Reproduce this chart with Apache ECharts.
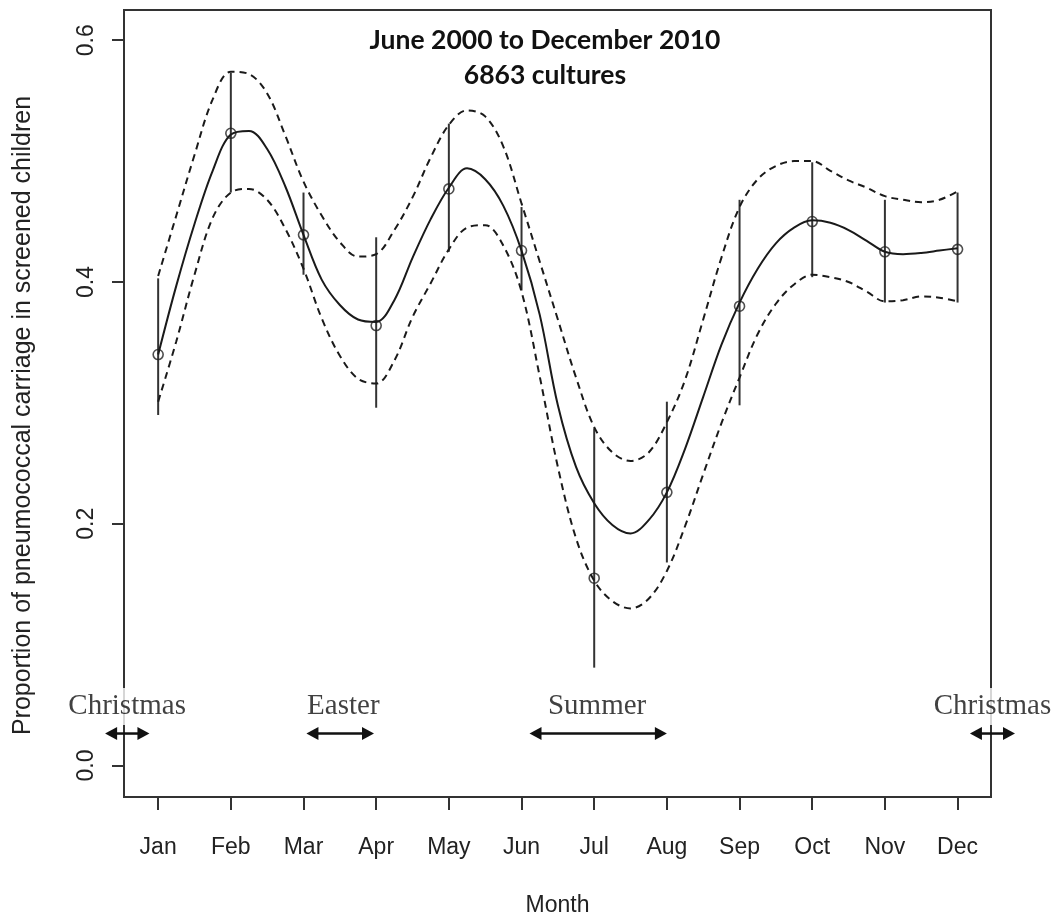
<!DOCTYPE html>
<html>
<head>
<meta charset="utf-8">
<script src="https://cdn.jsdelivr.net/npm/echarts@6/dist/echarts.min.js"></script>
<style>
  html, body { margin: 0; padding: 0; background: #fff; }
  #chart { width: 1056px; height: 916px; }
</style>
</head>
<body>
<div id="chart"></div>
<script>
// month labels on the x axis
const months = ['Jan', 'Feb', 'Mar', 'Apr', 'May', 'Jun', 'Jul', 'Aug', 'Sep', 'Oct', 'Nov', 'Dec']
const yTicks = [0, 0.2, 0.4, 0.6]

// observed monthly proportions and their confidence bars
const observed = [0.340, 0.523, 0.439, 0.364, 0.477, 0.426, 0.155, 0.226, 0.380, 0.450, 0.425, 0.427]
const barLow = [0.290, 0.474, 0.406, 0.296, 0.425, 0.393, 0.081, 0.168, 0.298, 0.404, 0.383, 0.383]
const barHigh = [0.403, 0.573, 0.474, 0.437, 0.531, 0.462, 0.279, 0.301, 0.468, 0.499, 0.468, 0.474]

// smoothed fit and its band, every quarter month (Jan .. Dec)
const fitted = [
  0.340, 0.397, 0.448, 0.492, 0.522, 0.525, 0.510, 0.479, 0.439, 0.402, 0.381, 0.369,
  0.367, 0.385, 0.420, 0.452, 0.478, 0.494, 0.485, 0.463, 0.426, 0.373, 0.298, 0.247,
  0.217, 0.199, 0.192, 0.203, 0.226, 0.262, 0.305, 0.348, 0.383, 0.411, 0.432, 0.445,
  0.451, 0.449, 0.443, 0.434, 0.425, 0.423, 0.424, 0.426, 0.428
]
const upperBand = [
  0.405, 0.455, 0.505, 0.551, 0.574, 0.572, 0.556, 0.521, 0.483, 0.455, 0.433, 0.421,
  0.423, 0.443, 0.470, 0.503, 0.530, 0.542, 0.537, 0.512, 0.465, 0.417, 0.369, 0.321,
  0.280, 0.259, 0.252, 0.259, 0.284, 0.319, 0.369, 0.420, 0.462, 0.485, 0.496, 0.500,
  0.500, 0.492, 0.484, 0.478, 0.471, 0.468, 0.466, 0.468, 0.475
]
const lowerBand = [
  0.301, 0.351, 0.406, 0.453, 0.474, 0.477, 0.468, 0.444, 0.411, 0.370, 0.339, 0.320,
  0.316, 0.335, 0.371, 0.399, 0.427, 0.445, 0.447, 0.430, 0.392, 0.322, 0.247, 0.188,
  0.153, 0.136, 0.130, 0.138, 0.161, 0.198, 0.241, 0.283, 0.321, 0.357, 0.382, 0.398,
  0.406, 0.404, 0.400, 0.392, 0.384, 0.385, 0.388, 0.387, 0.384
]
const bandMonths = fitted.map((v, i) => 1 + i * 0.25)

// holiday annotations: label position and arrow span (in months)
const holidayNames = ['Christmas', 'Easter', 'Summer', 'Christmas']
const holidayLabelX = [0.573, 3.548, 7.04, 12.48]
const holidayLabelY = 0.0488
const holidayFrom = [0.27, 3.04, 6.11, 12.17]
const holidayTo = [0.88, 3.97, 8.0, 12.79]
const holidayArrowY = 0.0265

const chart = echarts.init(document.getElementById('chart'))

const ink = '#1a1a1a'
const axisFont = { fontFamily: 'Liberation Sans', fontSize: 23, color: '#222' }
const pairs = (xs, ys) => xs.map((x, i) => [x, ys[i]])

// double-headed arrow drawn between two data points
function renderArrow(params, api) {
  const p1 = api.coord([api.value(0), api.value(2)])
  const p2 = api.coord([api.value(1), api.value(2)])
  const head = 12
  const half = 6.5
  const y = p1[1]
  return {
    type: 'group',
    children: [
      {
        type: 'line',
        shape: { x1: p1[0] + head - 2, y1: y, x2: p2[0] - head + 2, y2: y },
        style: { stroke: '#111', lineWidth: 2.5 }
      },
      {
        type: 'polygon',
        shape: { points: [[p1[0], y], [p1[0] + head, y - half], [p1[0] + head, y + half]] },
        style: { fill: '#111' }
      },
      {
        type: 'polygon',
        shape: { points: [[p2[0], y], [p2[0] - head, y - half], [p2[0] - head, y + half]] },
        style: { fill: '#111' }
      }
    ]
  }
}

const option = {
  backgroundColor: '#fff',
  animation: false,
  graphic: [{
    type: 'text',
    x: 545,
    y: 23,
    style: {
      text: 'June 2000 to December 2010\n6863 cultures',
      textAlign: 'center',
      textVerticalAlign: 'top',
      font: 'bold 26.5px Lato',
      lineHeight: 35,
      fill: '#111'
    }
  }],
  grid: {
    left: 124,
    right: 65,
    top: 10,
    bottom: 119,
    outerBoundsMode: 'none',
    show: true,
    borderColor: '#333',
    borderWidth: 2
  },
  xAxis: {
    type: 'value',
    min: 0.53,
    max: 12.46,
    name: 'Month',
    nameLocation: 'middle',
    nameGap: 97,
    nameTextStyle: axisFont,
    axisLine: { show: false, onZero: false },
    splitLine: { show: false },
    axisTick: {
      show: true,
      length: 13,
      customValues: months.map((m, i) => i + 1),
      lineStyle: { color: '#333', width: 2 }
    },
    axisLabel: {
      ...axisFont,
      margin: 39,
      customValues: months.map((m, i) => i + 1),
      formatter: v => months[Math.round(v) - 1]
    }
  },
  yAxis: {
    type: 'value',
    min: -0.026,
    max: 0.625,
    name: 'Proportion of pneumococcal carriage in screened children',
    nameLocation: 'middle',
    nameGap: 88,
    nameTextStyle: { ...axisFont, fontSize: 25, padding: [0, 24, 0, 0] },
    axisLine: { show: false, onZero: false },
    splitLine: { show: false },
    axisTick: {
      show: true,
      length: 12,
      customValues: yTicks,
      lineStyle: { color: '#333', width: 2 }
    },
    axisLabel: {
      ...axisFont,
      rotate: 90,
      margin: 26,
      customValues: yTicks,
      formatter: v => v.toFixed(1)
    }
  },
  series: [
    {
      name: 'upper',
      type: 'line',
      data: pairs(bandMonths, upperBand),
      smooth: 0.35,
      showSymbol: false,
      lineStyle: { color: ink, width: 2, type: [7, 5] }
    },
    {
      name: 'lower',
      type: 'line',
      data: pairs(bandMonths, lowerBand),
      smooth: 0.35,
      showSymbol: false,
      lineStyle: { color: ink, width: 2, type: [7, 5] }
    },
    {
      name: 'fit',
      type: 'line',
      data: pairs(bandMonths, fitted),
      smooth: 0.35,
      showSymbol: false,
      lineStyle: { color: ink, width: 2 }
    },
    {
      name: 'bars',
      type: 'custom',
      data: observed.map((v, i) => [i + 1, barLow[i], barHigh[i]]),
      encode: { x: 0, y: [1, 2] },
      renderItem: (params, api) => {
        const p1 = api.coord([api.value(0), api.value(1)])
        const p2 = api.coord([api.value(0), api.value(2)])
        return {
          type: 'line',
          shape: { x1: p1[0], y1: p1[1], x2: p2[0], y2: p2[1] },
          style: { stroke: '#333', lineWidth: 2 }
        }
      }
    },
    {
      name: 'observed',
      type: 'scatter',
      data: observed.map((v, i) => [i + 1, v]),
      symbol: 'circle',
      symbolSize: 10,
      itemStyle: { color: 'rgba(0,0,0,0)', borderColor: '#222', borderWidth: 1.6 }
    },
    {
      name: 'holidays',
      type: 'scatter',
      clip: false,
      symbolSize: 0,
      z: 5,
      data: holidayNames.map((n, i) => ({ name: n, value: [holidayLabelX[i], holidayLabelY] })),
      label: {
        show: true,
        position: 'inside',
        formatter: p => p.name,
        fontFamily: 'Liberation Serif',
        fontSize: 29,
        color: '#111',
        backgroundColor: '#fff',
        padding: [4, 2]
      }
    },
    {
      name: 'holidayArrows',
      type: 'custom',
      clip: false,
      z: 6,
      data: holidayFrom.map((x, i) => [x, holidayTo[i], holidayArrowY]),
      encode: { x: [0, 1], y: 2 },
      renderItem: renderArrow
    }
  ]
}

chart.setOption(option)
</script>
</body>
</html>
